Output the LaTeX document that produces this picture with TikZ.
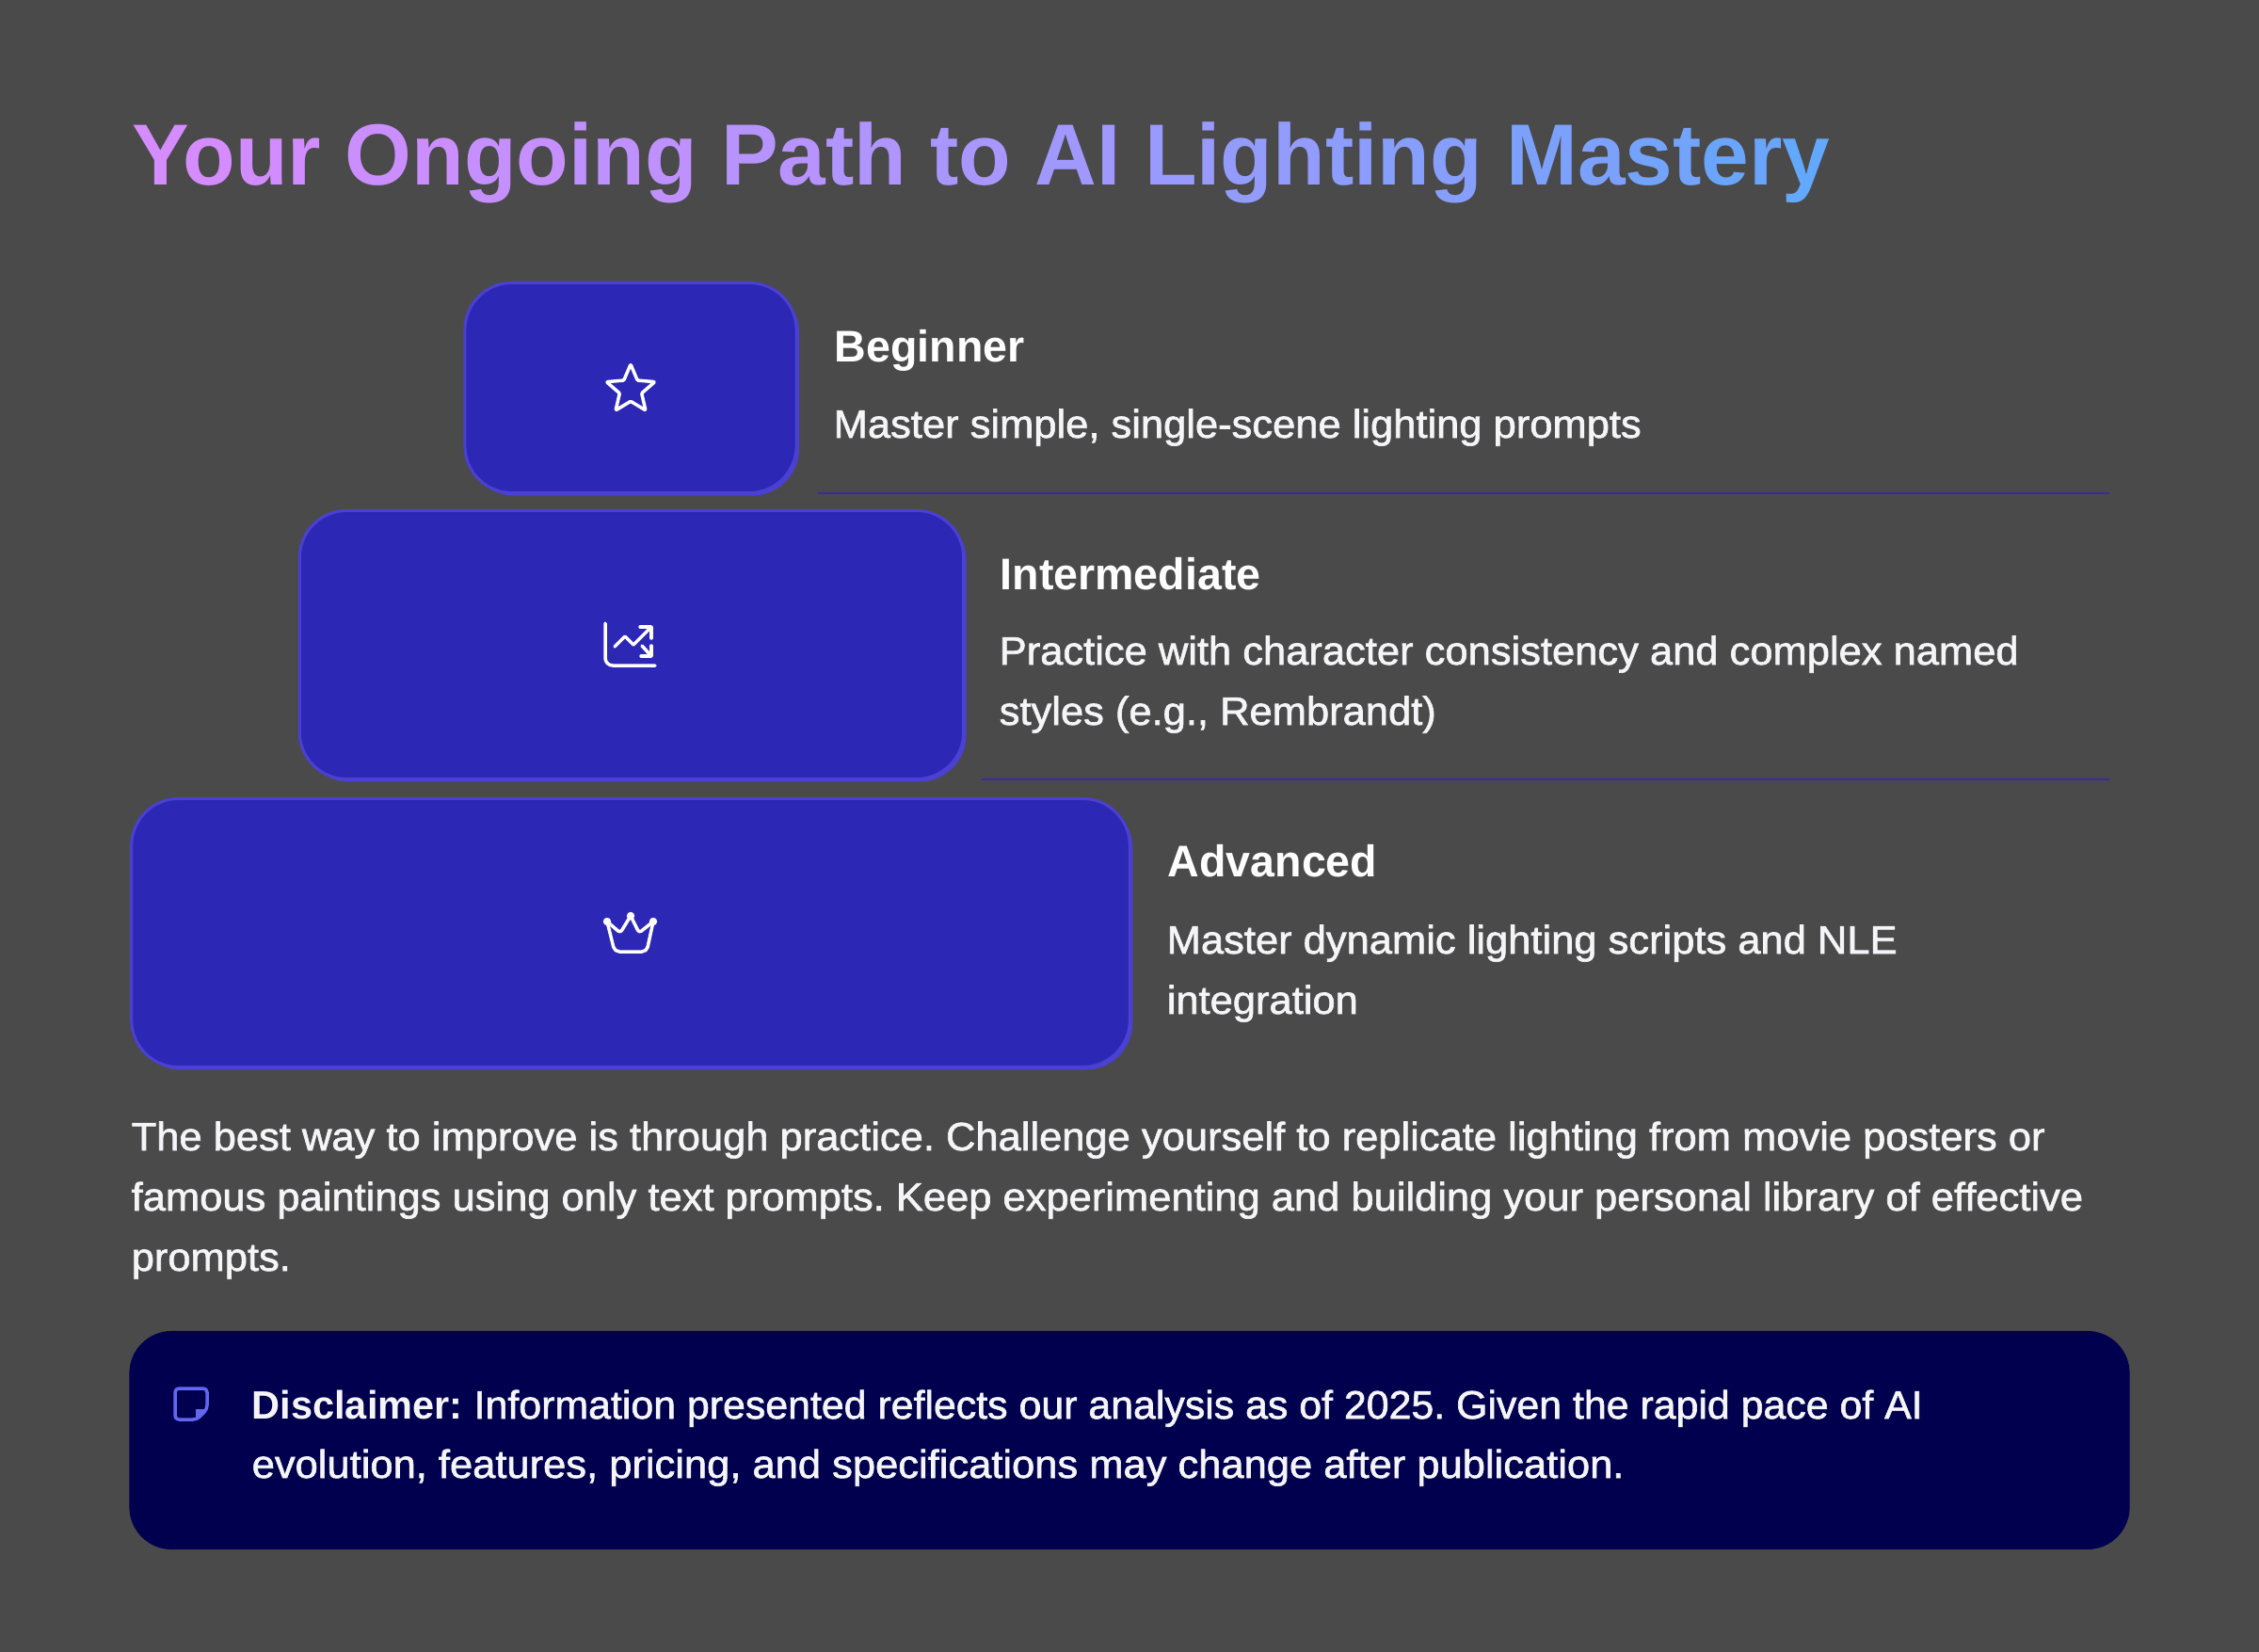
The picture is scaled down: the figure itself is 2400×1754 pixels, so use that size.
\documentclass[tikz,border=0pt]{standalone}
\usepackage{fontspec}
\setmainfont[FakeStretch=1.035,FakeBold=1.5]{Liberation Sans}
\newfontfamily\headfont[FakeStretch=0.988]{Liberation Sans Bold}
\newfontfamily\tightfont[FakeStretch=1.02,FakeBold=1.5]{Liberation Sans}
\usetikzlibrary{shapes.geometric,shadows}

\definecolor{pagebg}{HTML}{4B4A4B}
\definecolor{tierfill}{HTML}{2D27B6}
\definecolor{tieredge}{HTML}{4A40D2}
\definecolor{tierrule}{HTML}{3A2A9C}
\definecolor{panelfill}{HTML}{00004F}
\definecolor{noteicon}{HTML}{6366F1}
\definecolor{bodytext}{HTML}{F5F5F7}
\definecolor{titleleft}{HTML}{D48CFF}
\definecolor{titleright}{HTML}{60A8FC}

\newcommand{\titlepart}[2]{\textcolor{titleleft!#1!titleright}{#2}}

\tikzset{
    tierbox/.style={rounded corners=0.5cm, draw=tieredge, line width=0.03cm, fill=tierfill, inner sep=0,
        general shadow={fill=tieredge, shadow xshift=0.03cm, shadow yshift=-0.03cm}},
    tierrule/.style={draw=tierrule, line width=0.02cm},
    tiericon/.style={draw=white, line width=0.035cm, line cap=round, line join=round},
    headlabel/.style={anchor=base west, inner sep=0, text=white, font=\headfont\fontsize{13.4}{16}\selectfont},
    bodylabel/.style={anchor=base west, inner sep=0, text=bodytext, align=left, font=\frenchspacing\fontsize{11.95}{18.2}\selectfont}
}

\begin{document}
\begin{tikzpicture}[x=0.01cm,y=-0.01cm]
        \useasboundingbox (0, 0) rectangle (2400, 1754);
        \fill[pagebg] (-5, -5) rectangle (2405, 1759);

        \node[anchor=base west, inner sep=0, font=\headfont\fontsize{26.2}{30}\selectfont] (title) at (140, 196) {%
            \titlepart{100}{Yo}\titlepart{97}{ur} \titlepart{92}{On}\titlepart{87}{go}\titlepart{82}{ing} \titlepart{74}{Pa}\titlepart{69}{th} \titlepart{63}{to} \titlepart{56}{AI} \titlepart{49}{Li}\titlepart{44}{gh}\titlepart{38}{ti}\titlepart{33}{ng} \titlepart{24}{Ma}\titlepart{17}{st}\titlepart{9}{er}\titlepart{2}{y}};

        \node[tierbox, minimum width=3.52cm, minimum height=2.23cm] (beginner) at (670, 412) {};
        \node[tierbox, minimum width=7.05cm, minimum height=2.85cm] (intermediate) at (671, 685) {};
        \node[tierbox, minimum width=10.6cm, minimum height=2.85cm] (advanced) at (670, 991) {};

        \node[star, star points=5, star point ratio=2.2, tiericon, inner sep=0, minimum size=0.54cm, rounded corners=0.01cm] (staricon) at (670, 414) {};

        \begin{scope}[shift={(intermediate.center)}, tiericon]
            \draw[rounded corners=0.08cm] (-28, -23) -- (-28, 22) -- (25, 22);
            \draw (-18, 2) -- (-7, -9) -- (2, 0) -- (21, -19);
            \draw (9, -19) -- (21, -19) -- (21, -7);
            \draw (11, 1) -- (21, 12);
            \draw (10, 12) -- (21, 12) -- (21, 1);
        \end{scope}

        \begin{scope}[shift={(advanced.center)}, tiericon]
            \draw[rounded corners=0.03cm] (-25, -12) -- (-11, 0) -- (0, -18) -- (9, 0) -- (24, -12);
            \draw[rounded corners=0.05cm] (-25, -12) -- (-17, 20) -- (17, 20) -- (24, -12);
            \fill[white] (-25, -12) circle (4.2);
            \fill[white] (0, -18) circle (4.2);
            \fill[white] (24, -12) circle (4.2);
        \end{scope}

        \coordinate (ruleoneleft) at (869, 524);
        \coordinate (ruleoneright) at (2241, 524);
        \coordinate (ruletwoleft) at (1043, 828);
        \coordinate (ruletworight) at (2241, 828);
        \draw[tierrule] (ruleoneleft) -- (ruleoneright);
        \draw[tierrule] (ruletwoleft) -- (ruletworight);

        \node[headlabel] (beginnerhead) at (886, 384) {Beginner};
        \node[bodylabel] (beginnertext) at (885, 465) {Master simple, single-scene lighting prompts};

        \node[headlabel] (intermediatehead) at (1062, 626) {Intermediate};
        \node[bodylabel] (intermediatetext) at (1061, 770) {Practice with character consistency and complex named\\styles (e.g., Rembrandt)};

        \node[headlabel] (advancedhead) at (1240, 931) {Advanced};
        \node[bodylabel] (advancedtext) at (1239, 1077) {Master dynamic lighting scripts and NLE\\integration};

        \node[bodylabel] (practicetext) at (139, 1350) {The best way to improve is through practice. Challenge yourself to replicate lighting from movie posters or\\famous paintings using only text prompts. Keep experimenting and building your personal library of effective\\prompts.};

        \node[minimum width=21.24cm, minimum height=2.32cm, rounded corners=0.45cm, fill=panelfill, inner sep=0] (panel) at (1200, 1530) {};

        \begin{scope}[line width=0.035cm, noteicon, line join=round]
            \draw[rounded corners=0.04cm] (186, 1475) -- (220, 1475) -- (220, 1497) -- (209, 1508) -- (186, 1508) -- cycle;
            \fill (220, 1497) -- (208, 1497) -- (208, 1508) -- cycle;
        \end{scope}

        \node[bodylabel, font=\frenchspacing\fontsize{11.95}{17.9}\selectfont] (disclaimertext) at (267, 1570) {{\headfont Disclaimer:} {\tightfont Information presented reflects our analysis as of 2025. Given the rapid pace of AI}\\evolution, features, pricing, and specifications may change after publication.};

    \end{tikzpicture}
\end{document}
